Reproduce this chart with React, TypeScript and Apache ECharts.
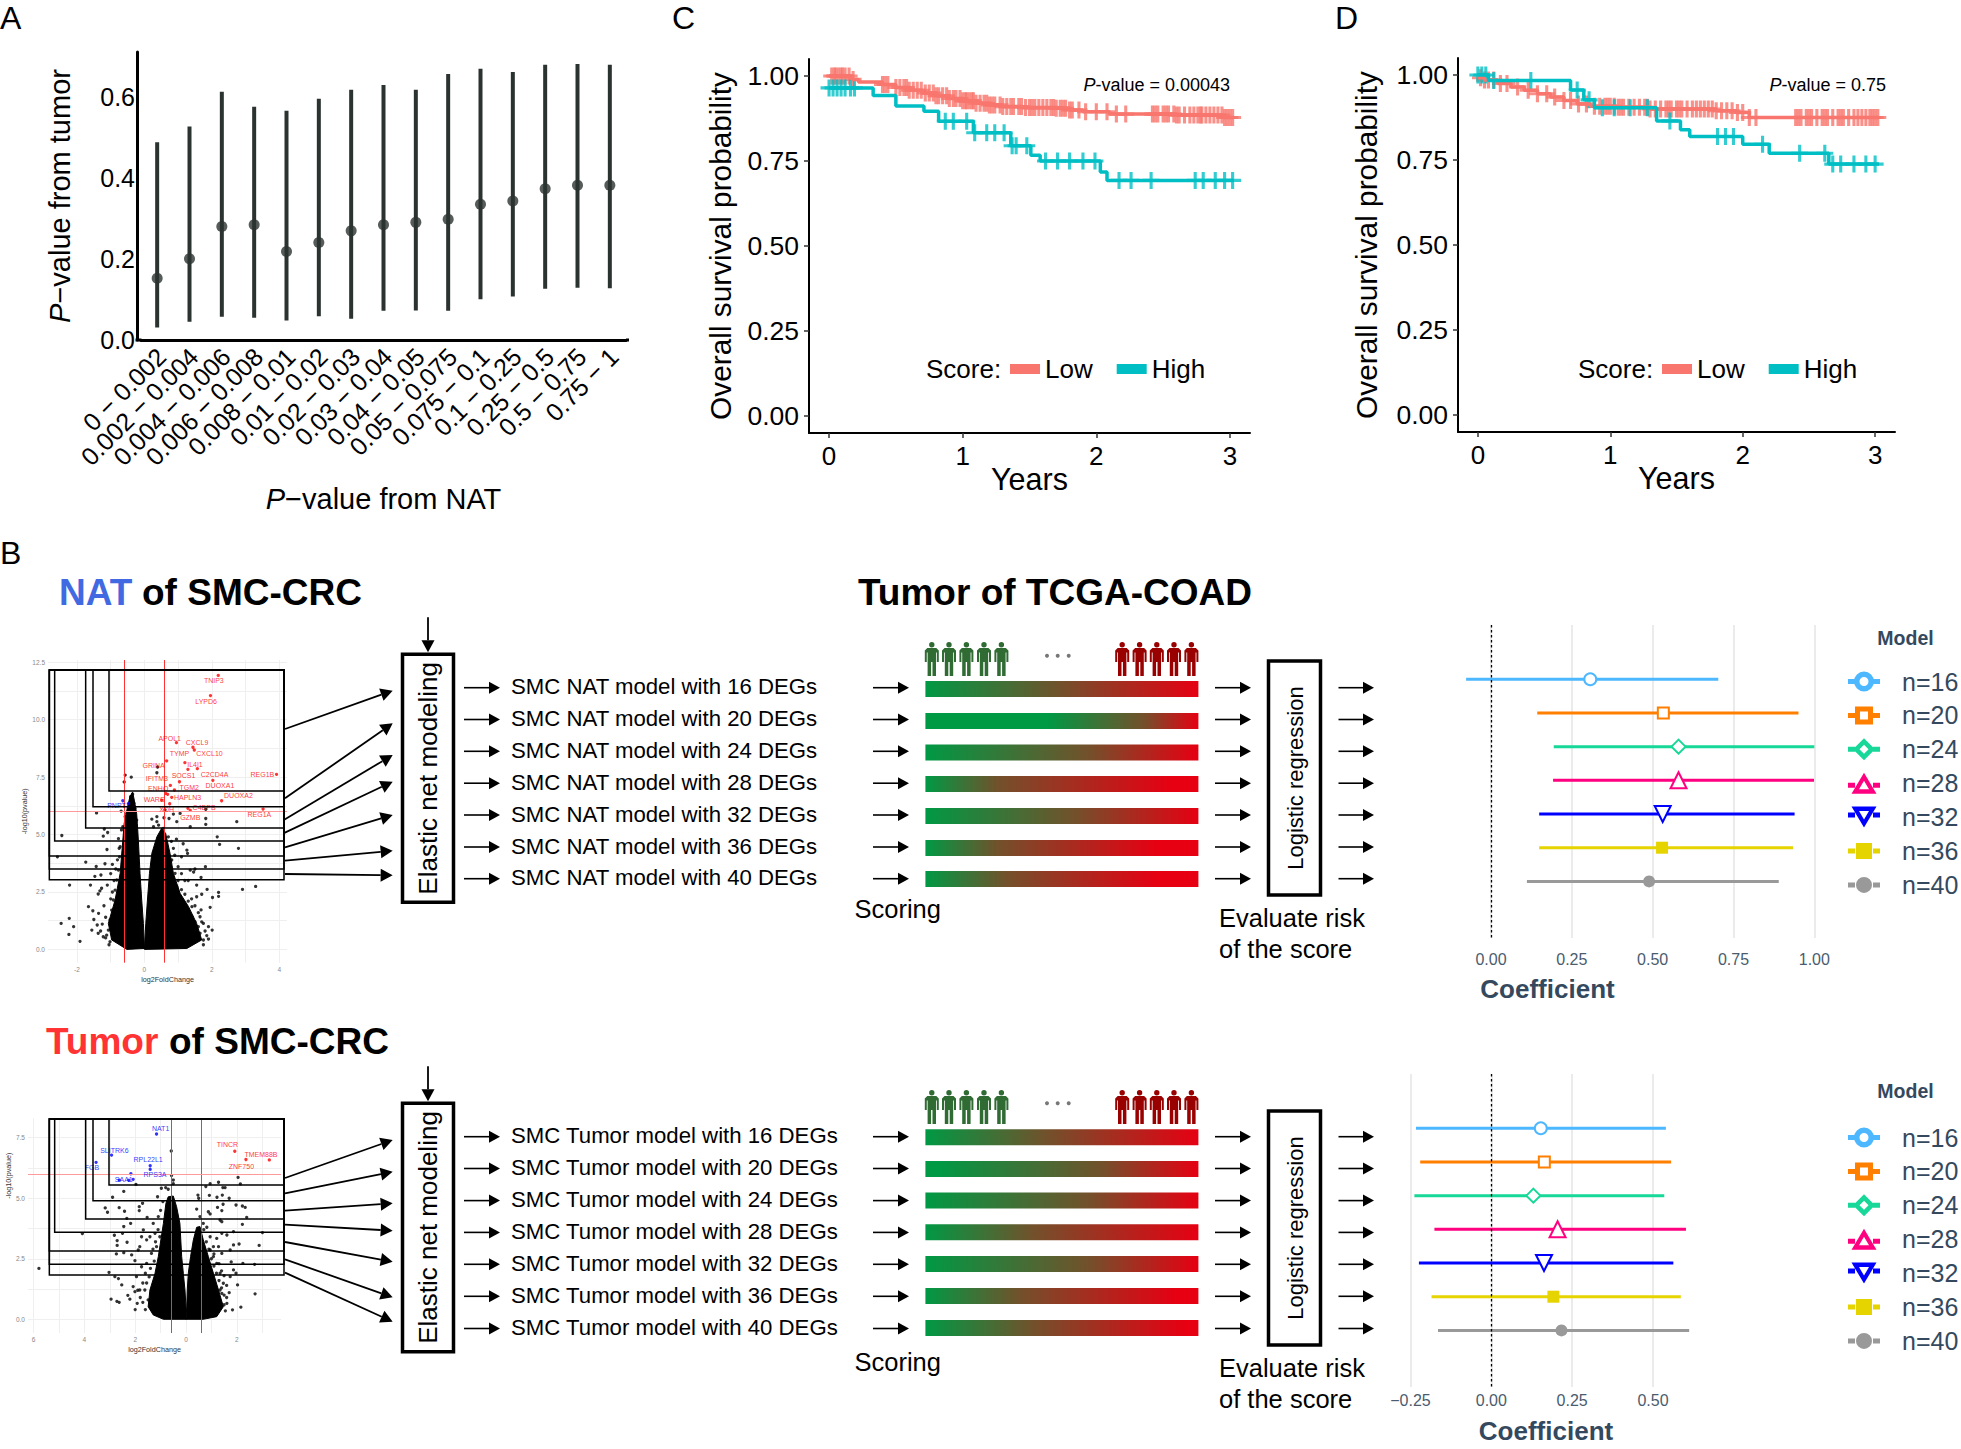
import React, { useEffect, useRef } from "react";
import * as echarts from "echarts";

const FONT = "Liberation Sans";
const SLATE = "#34495e";

// ---------- Panel A ----------
const binLabels = ["0 − 0.002","0.002 − 0.004","0.004 − 0.006","0.006 − 0.008","0.008 − 0.01","0.01 − 0.02","0.02 − 0.03","0.03 − 0.04","0.04 − 0.05","0.05 − 0.075","0.075 − 0.1","0.1 − 0.25","0.25 − 0.5","0.5 − 0.75","0.75 − 1"];
const binMedian = [.153,.201,.281,.285,.219,.241,.27,.285,.291,.299,.336,.344,.374,.383,.383];
const binUpper = [.489,.528,.614,.577,.567,.597,.619,.631,.619,.658,.671,.663,.681,.683,.681];
const binLower = [.031,.045,.0575,.055,.048,.059,.0525,.0725,.073,.0725,.101,.1075,.127,.129,.128];

// ---------- Panels C, D ----------
const cLowSteps = [[0,1],[.17,.99],[.22,.982],[.4,.975],[.5,.966],[.6,.958],[.7,.95],[.8,.942],[.9,.934],[1,.927],[1.1,.92],[1.2,.915],[1.3,.91],[1.45,.907],[1.7,.905],[1.8,.9],[1.9,.895],[2.1,.888],[2.6,.885],[2.95,.878],[3.03,.875]];
const cHighSteps = [[0,.965],[.33,.943],[.5,.912],[.71,.896],[.82,.867],[1.08,.833],[1.36,.795],[1.51,.767],[1.58,.75],[2.03,.718],[2.08,.693],[3.03,.693]];
const cLowCensor = [.02,.04,.05,.07,.09,.1,.12,.15,.18,.4,.42,.44,.5,.53,.56,.58,.6,.63,.66,.69,.72,.75,.78,.8,.82,.85,.88,.9,.93,.95,.98,1,1.02,1.03,1.05,1.07,1.08,1.1,1.13,1.16,1.18,1.2,1.22,1.24,1.28,1.3,1.33,1.36,1.38,1.42,1.44,1.47,1.5,1.52,1.54,1.57,1.6,1.63,1.66,1.68,1.7,1.73,1.75,1.77,1.8,1.82,1.87,1.92,2,2.08,2.15,2.22,2.42,2.44,2.46,2.5,2.52,2.54,2.58,2.6,2.62,2.66,2.7,2.73,2.76,2.78,2.79,2.82,2.85,2.88,2.91,2.94,2.96,2.98,3,3.02];
const cHighCensor = [.0,.03,.06,.09,.12,.16,.19,.87,.93,1.03,1.09,1.18,1.24,1.31,1.37,1.4,1.48,1.62,1.71,1.8,1.9,1.99,2.17,2.26,2.41,2.74,2.8,2.89,2.96,3.02];
const dLowSteps = [[0,.992],[.05,.985],[.15,.975],[.25,.965],[.35,.955],[.45,.945],[.55,.935],[.65,.925],[.75,.915],[.85,.908],[1.05,.905],[1.3,.9],[1.6,.9],[1.8,.895],[1.95,.89],[2.05,.875],[3.03,.875]];
const dHighSteps = [[0,1],[.08,.984],[.7,.956],[.8,.927],[.88,.904],[1.35,.865],[1.53,.839],[1.6,.819],[2,.796],[2.2,.77],[2.65,.738],[3.03,.738]];
const dLowCensor = [.02,.05,.08,.12,.17,.22,.3,.38,.45,.52,.58,.65,.7,.76,.82,.88,.92,.96,.98,1,1.03,1.06,1.08,1.1,1.14,1.18,1.22,1.26,1.28,1.3,1.34,1.38,1.42,1.44,1.46,1.5,1.52,1.54,1.58,1.62,1.65,1.68,1.71,1.74,1.77,1.8,1.84,1.88,1.92,1.96,2,2.05,2.1,2.4,2.42,2.44,2.48,2.5,2.52,2.56,2.6,2.62,2.64,2.68,2.72,2.74,2.76,2.8,2.84,2.87,2.9,2.93,2.96,2.98,3,3.02];
const dHighCensor = [0,.03,.06,.12,.4,.75,.84,.94,1.03,1.15,1.28,1.45,1.81,1.87,1.93,2.15,2.43,2.62,2.68,2.74,2.84,2.93,3];

// ---------- Volcano plots ----------
const v1LobeLeft = [[-.97,.41],[-1.07,1.13],[-.87,2.15],[-.72,3.31],[-.64,4.76],[-.6,5.49],[-.52,6.07],[-.43,6.65],[-.35,6.85],[-.3,6.5],[-.23,5.92],[-.21,5.49],[-.18,4.76],[-.13,3.31],[-.08,2.15],[-.03,1.13],[0,.04],[-.52,0]];
const v1LobeRight = [[.04,1.13],[.09,2.15],[.15,3.31],[.22,4.18],[.37,4.9],[.51,5.27],[.63,5.05],[.76,4.18],[.86,3.31],[1.06,2.44],[1.31,1.86],[1.55,1.13],[1.7,.41],[1.26,.04],[0,0]];
const v1Black = [[-.57,7.59],[-.39,7.5],[-.6,7.29],[.39,7.94],[.37,7.69],[-1.42,5.94],[-.69,6.02],[-2.45,4.96],[-1.19,5.24],[-1.09,5.09],[-1.22,4.93],[-.77,4.82],[-1.11,4.35],[-2.58,4.03],[-1.74,3.8],[-1.17,3.73],[-1.43,3.61],[-1.29,3.24],[-1.47,3.18],[-2.22,2.8],[-1.6,2.8],[-1.27,2.66],[-1.32,2.55],[-1.37,2.41],[-1.66,1.86],[-1.53,1.68],[-1.36,1.57],[-2.23,1.35],[-2.47,1.13],[-2.1,.99],[-2.24,.65],[-1.91,.35],[-1.56,.84],[-1.4,1.06],[-1.37,.7],[-1.22,.55],[-1.02,.33],[-1.02,1.28],[-1.07,.84],[-1.12,.62],[-.97,1.71],[-.92,2.15],[-.87,2.58],[-.82,3.02],[-.77,3.45],[-.74,4.03],[-.72,4.47],[-.64,5.34],[-.57,5.78],[-.52,5.92],[-.45,6.21],[-.41,6.65],[-.35,6.76],[-.31,6.36],[-.28,6.14],[-.23,5.63],[.22,5.67],[.37,5.56],[.58,5.73],[.73,5.7],[.86,5.89],[.96,5.56],[1.36,5.34],[1.82,6.1],[1.82,5.7],[1.82,5.44],[2.74,5.56],[2.16,4.9],[2.23,4.57],[2.79,4.4],[1.81,3.6],[1.68,3.13],[2.91,2.61],[3.3,2.74],[2.2,2.48],[2.2,2.31],[1.86,2.61],[2.02,2.26],[2.01,.84],[1.9,.99],[1.95,1.83],[1.68,1.72],[1.26,4.32],[1.28,4.18],[.86,4.4],[1.1,4.03],[1.36,3.45],[1.46,3.37],[1.2,3],[1.55,2.29],[1.41,1.86],[1.65,1.42],[1.75,1.13],[.66,4.18],[.81,3.89],[.91,3.31],[.96,2.73],[1.06,2.29],[1.16,2],[1.26,1.71],[1.41,1.42],[1.5,1.2],[1.6,.99],[1.65,.7],[1.75,.41],[.27,5.34],[.42,5.41],[.56,5.27],[.71,4.9],[.37,5.78],[.61,6.07],[1.06,5.92],[-1.5,1.3],[-1.2,1.9],[-1.15,1.4],[-1.25,1.1],[-1.3,.8],[-1.15,.5],[-1.05,.2],[-.95,2.5],[-.9,3],[-1,2.2],[-.85,3.5],[-.8,3.9],[-.75,4.4],[-.9,1.5],[-1.1,2.8],[-1,3.3],[-.95,3.7],[-.68,5.2],[1,3],[1.1,2.6],[1.2,2.4],[1.3,2.1],[1.4,2.2],[1.5,1.9],[1.6,1.6],[1.7,1.2],[1.8,.8],[1.85,.6],[.9,4.1],[1,3.6],[1.1,3.3],[1.3,3],[.8,4.7],[.95,4.8],[1.15,4.6],[1.5,3.5],[1.55,2.8],[1.7,2.4],[1.75,.2],[1.9,.45]];
const v1Red = [[2.19,11.93],[1.96,11.05],[.95,9],[1.44,8.8],[1.48,8.68],[.66,8.21],[1.2,8.13],[1.29,7.84],[1.57,7.87],[3.92,7.62],[2.03,7.36],[1.04,7.3],[.77,7.14],[.89,6.94],[.63,6.79],[.69,6.75],[.81,6.62],[.51,6.5],[2.29,6.47],[.75,6.34],[3.52,6.11],[1.29,6.14],[1.36,6.05]];
const v1Blue = [[-.64,6.47],[-.47,6.35]];
const v1RedLabels: [string, number, number][] = [["TNIP3",2.06,11.7],["LYPD6",1.83,10.81],["APOL1",.75,9.2],["CXCL9",1.56,9.01],["TYMP",1.04,8.53],["CXCL10",1.93,8.53],["IL4I1",1.5,8.07],["GRINA",.27,8],["SOCS1",1.16,7.55],["C2CD4A",2.08,7.63],["REG1B",3.5,7.62],["IFITM3",.37,7.46],["DUOXA1",2.24,7.14],["ENHO",.41,7.02],["TGM2",1.33,7.07],["HAPLN3",1.28,6.62],["DUOXA2",2.79,6.68],["WARS",.29,6.53],["C4BPB",1.77,6.18],["XDH",.66,6.07],["REG1A",3.41,5.88],["GZMB",1.36,5.73]];
const v1BlueLabels: [string, number, number][] = [["PNPT1",-.77,6.28]];

const v2LobeLeft = [[-1.49,.52],[-1.42,1.21],[-1.22,1.9],[-1.09,2.59],[-.89,3.96],[-.79,4.79],[-.7,5.06],[-.5,5.09],[-.37,4.65],[-.24,3.96],[-.17,2.59],[-.105,1.9],[-.04,1.21],[0,.52],[0,0],[-.89,0],[-1.29,.18]];
const v2LobeRight = [[.03,.52],[.05,1.21],[.09,1.9],[.18,2.59],[.29,3.28],[.42,3.8],[.55,3.83],[.68,3.28],[.88,2.59],[1.08,1.9],[1.28,1.21],[1.47,.52],[1.21,.11],[.68,0],[0,0]];
const v2Black = [[-.58,6.95],[-.57,5.94],[-.5,5.75],[-.5,5.6],[-1.97,5.57],[-2.45,5.28],[-2.89,5.04],[-.97,5.41],[-.8,5.44],[-.7,5.37],[-1.12,5.06],[-.91,4.86],[-1.71,4.79],[-1.84,4.65],[-1.84,4.49],[-2.63,4.61],[-3.18,4.6],[-3.09,4.42],[-2.42,4.46],[-2.33,4.17],[-1.53,4.21],[-2.18,3.96],[-2.45,3.83],[-4.08,3.54],[-2.82,3.47],[-2.71,3.25],[-2.71,3.05],[-2.32,3.18],[-2.5,3.55],[-2.74,2.7],[-2.45,2.75],[-5.79,2.1],[-3.03,1.94],[-2.8,1.76],[-2.66,1.68],[-2.53,1.42],[-2.95,.83],[-2.72,.74],[-2.63,.7],[-2.29,.99],[-2.21,.83],[-2.01,1.14],[-1.92,.66],[-1.68,3.69],[-1.55,3.28],[-1.82,3],[-2.01,2.42],[-2.14,2.66],[-1.95,1.76],[-1.75,2.17],[-1.55,2.31],[-1.36,2.72],[-1.42,3.41],[-1.16,3],[-1.62,1.21],[-1.49,.8],[-1.29,3.96],[-1.09,4.24],[-1.22,3.55],[-1.03,3.41],[-1.75,3.41],[-1.88,2.86],[-2.08,1.35],[-1.82,1.21],[-1.6,.4],[-1.7,.7],[-1.8,.9],[-1.55,1.5],[-1.6,1.9],[-1.4,2.1],[-1.3,2.9],[-1.2,3.2],[-1.1,3.7],[-1,4.5],[-1.7,1.5],[-1.9,1.2],[-2,.4],[-1.45,1.75],[-1.25,2.4],[.95,5.6],[1.28,5.66],[.78,5.48],[1.45,5.44],[1.54,5.44],[2.05,5.86],[2.14,5.59],[.47,5.13],[.5,5],[.92,5.12],[1.22,5.04],[1.43,5.13],[1.7,5],[1.46,4.75],[1.24,4.62],[1.97,4.72],[2.22,4.68],[2.33,4.62],[1.41,4.49],[.42,4.55],[.55,4.24],[.88,4.44],[.95,4.35],[2.39,4.21],[2.22,3.92],[1.34,4.1],[.68,3.96],[.82,3.8],[1.41,4.03],[1.87,3.62],[3.01,3.58],[2.88,3.05],[2.09,3.11],[1.87,3.07],[1.61,3.48],[1.41,3.55],[1.21,3.34],[.95,3.41],[1.08,3],[1.28,3],[1.41,2.72],[1.74,2.86],[2.24,2.31],[2.7,2.27],[1.78,2.37],[1.97,1.9],[1.87,2.04],[1.74,1.76],[2.03,1.42],[2.72,1.05],[2.16,.5],[1.83,.39],[1.61,.66],[1.41,1.07],[1.47,1.49],[1.34,1.9],[1.21,2.31],[1.08,2.59],[.95,2.86],[1.34,1.21],[1.14,.94],[1.28,.52],[1.55,.35],[1.6,.9],[1.5,1],[1.4,1.3],[1.3,1.6],[1.2,1.9],[1.1,2.2],[1,2.5],[.9,2.9],[.8,3.2],[.7,3.7],[1.5,.6],[1.7,1.1],[1.6,1.4],[1.5,1.8],[1.4,2],[1.3,2.3],[1.1,2.7]];
const v2Red = [[1.92,6.94],[2.36,6.6],[3.28,6.58]];
const v2Blue = [[-1.16,7.65],[-2.93,6.78],[-3.54,6.48],[-1.41,6.34],[-1.41,6.19],[-2.17,6.01],[-2.63,5.75],[-2.25,5.74],[-2.08,5.78]];
const v2RedLabels: [string, number, number][] = [["TINCR",1.63,7.21],["TMEM88B",2.95,6.81],["ZNF750",2.18,6.32]];
const v2BlueLabels: [string, number, number][] = [["NAT1",-1,7.87],["SLITRK6",-2.82,6.99],["FGB",-3.7,6.25],["RPL22L1",-1.49,6.58],["RPS3A",-1.22,5.96],["SAA1",-2.45,5.78]];

// ---------- Forest plots ----------
const modelNames = ["n=16","n=20","n=24","n=28","n=32","n=36","n=40"];
const modelColors = ["#4db8ff","#ff7f00","#17d898","#ff0080","#0000ff","#e6d400","#999999"];
const modelSymbols = ["emptyCircle","emptyRect","emptyDiamond","emptyTriangle","emptyTriangle","rect","circle"];
const modelSymbolSizes = [12,11,14,16,16,12,12];
const natLow = [-.077,.143,.194,.192,.149,.149,.111];
const natEst = [.307,.533,.58,.58,.531,.529,.489];
const natHigh = [.703,.951,1,.999,.939,.934,.89];
const tumorLow = [-.233,-.22,-.238,-.176,-.224,-.185,-.165];
const tumorEst = [.153,.164,.13,.205,.163,.192,.217];
const tumorHigh = [.54,.556,.535,.602,.563,.586,.612];
const barL = "M0 8.5H7V13.5H0Z M25 8.5H32V13.5H25Z";
const legendIcons = [
  `path://${barL} M16 1a10 10 0 1 1 0 20a10 10 0 1 1 0-20Z M16 6.5a4.5 4.5 0 1 0 0 9a4.5 4.5 0 1 0 0-9Z`,
  `path://${barL} M7 2H25V20H7Z M12 7V15H20V7Z`,
  `path://${barL} M16 0L27 11L16 22L5 11Z M16 6.5L11.5 11L16 15.5L20.5 11Z`,
  "path://M0 10H7V15H0Z M25 10H32V15H25Z M16 0L28.5 21H3.5Z M16 8L11 16.5H21Z",
  "path://M0 6H7V11H0Z M25 6H32V11H25Z M3.5 0H28.5L16 21Z M16 13L21 4.5H11Z",
  `path://${barL} M8 3H24V19H8Z`,
  `path://${barL} M16 3a8 8 0 1 1 0 16a8 8 0 1 1 0-16Z`,
];

// ---------- Schematic ----------
const natRowTexts = [16,20,24,28,32,36,40].map((n) => `SMC NAT model with ${n} DEGs`);
const tumorRowTexts = [16,20,24,28,32,36,40].map((n) => `SMC Tumor model with ${n} DEGs`);
const natGradients = [[.0,.5,1],[.45,.8,1],[0,.6,1],[0,.27,.9],[0,.55,1],[0,.27,.85],[0,.3,.85]];
const tumorGradients = [[0,.45,1],[.05,.65,1.05],[0,.6,1.05],[0,.4,1],[0,.6,1.05],[0,.35,.92],[0,.4,.95]];

const plusIcon = "path://M4.9,0H7.1V4.9H12V7.1H7.1V12H4.9V7.1H0V4.9H4.9Z";
const stepAt = (steps: number[][], t: number) => {
  let s = steps[0][1];
  for (const p of steps) if (p[0] <= t) s = p[1];
  return s;
};

echarts.graphic.registerShape(
  "person",
  echarts.graphic.extendPath(
    "M7 0a2.7 2.7 0 1 1 0 5.4a2.7 2.7 0 1 1 0-5.4Z M2.5 6H11.5L14 8.5V20H12V10.5H11.2V34H7.7V20H6.3V34H2.8V10.5H2V20H0V8.5Z",
    {}
  ) as any
);

function txt(text: string, x: number, y: number, fontSize: number, extra: any = {}, rotation = 0) {
  const { fill = "#000", fontWeight = "normal", align = "left", fontStyle = "normal", rich } = extra;
  return {
    type: "text", x, y, rotation, silent: true, z: 50,
    style: { text, fill, fontSize, fontFamily: FONT, fontWeight, fontStyle, align, verticalAlign: "middle", ...(rich ? { rich } : {}) },
  };
}
function arrow(x1: number, y1: number, x2: number, y2: number, w = 1.6, len = 11, half = 6) {
  const a = Math.atan2(y2 - y1, x2 - x1);
  const bx = x2 - Math.cos(a) * len, by = y2 - Math.sin(a) * len;
  const nx = -Math.sin(a) * half, ny = Math.cos(a) * half;
  return [
    { type: "line", silent: true, z: 40, shape: { x1, y1, x2: bx, y2: by }, style: { stroke: "#000", lineWidth: w } },
    { type: "polygon", silent: true, z: 40, shape: { points: [[x2, y2], [bx + nx, by + ny], [bx - nx, by - ny]] }, style: { fill: "#000" } },
  ];
}
function nestedBoxes(topY: number, origin: number, boxes: number[][]) {
  return boxes.map(([l, b]) => ({
    type: "rect", silent: true, z: 30,
    shape: { x: l / 3, y: topY, width: 284 - l / 3, height: origin + b / 3 - topY },
    style: { fill: "none", stroke: "#000", lineWidth: 1.5 },
  }));
}
function schematic(
  rowY: number[], texts: string[], grads: number[][], barTop: number[], iconY: number, dotY: number,
  boxTop: number, boxBottom: number, elTop: number, elBottom: number, zoomArrows: number[][], zoomOrigin: number,
  scoringY: number, evalY: number[]
) {
  const out: any[] = [];
  rowY.forEach((y, i) => {
    out.push(...arrow(464, y, 500, y));
    out.push(txt(texts[i], 511, y - 1, 22.2));
    out.push(...arrow(873, y, 909, y));
    const [g, m, r] = grads[i];
    const clamp = (v: number) => Math.min(1, Math.max(0, v));
    out.push({
      type: "rect", silent: true, z: 20,
      shape: { x: 925.4, y: barTop[i], width: 273, height: 16 },
      style: {
        fill: new echarts.graphic.LinearGradient(0, 0, 1, 0, [
          { offset: 0, color: "#009944" }, { offset: clamp(g), color: "#009944" },
          { offset: clamp(m), color: "#73502b" },
          { offset: clamp(r), color: "#e60012" }, { offset: 1, color: "#e60012" },
        ]),
      },
    });
    out.push(...arrow(1215, y, 1251, y));
    out.push(...arrow(1338.5, y, 1374, y));
  });
  [931.8, 949, 966.4, 984, 1001.4].forEach((cx) =>
    out.push({ type: "person", silent: true, z: 20, x: cx - 7, y: iconY, style: { fill: "#2f6b33" } }));
  [1122.2, 1139.6, 1156.8, 1174, 1191.4].forEach((cx) =>
    out.push({ type: "person", silent: true, z: 20, x: cx - 7, y: iconY, style: { fill: "#990000" } }));
  [1047, 1057.7, 1068.7].forEach((cx) =>
    out.push({ type: "circle", silent: true, z: 20, shape: { cx, cy: dotY, r: 2 }, style: { fill: "#777" } }));
  out.push({ type: "rect", silent: true, z: 20, shape: { x: 1268.5, y: boxTop, width: 52, height: boxBottom - boxTop }, style: { fill: "none", stroke: "#000", lineWidth: 3.5 } });
  out.push(txt("Logistic regression", 1295, (boxTop + boxBottom) / 2, 22, { align: "center" }, Math.PI / 2));
  out.push({ type: "rect", silent: true, z: 20, shape: { x: 402.5, y: elTop, width: 51, height: elBottom - elTop }, style: { fill: "none", stroke: "#000", lineWidth: 3.5 } });
  out.push(txt("Elastic net modeling", 428, (elTop + elBottom) / 2, 26, { align: "center" }, Math.PI / 2));
  out.push(...arrow(428, elTop - 37, 428, elTop - 2, 1.8, 12, 6.5));
  zoomArrows.forEach(([a, b, c, d]) => out.push(...arrow(a / 3, zoomOrigin + b / 3, c / 3, zoomOrigin + d / 3, 1.8, 12, 6.5)));
  out.push(txt("Scoring", 854.5, scoringY, 25.5));
  out.push(txt("Evaluate risk", 1219, evalY[0], 25.5));
  out.push(txt("of the score", 1219, evalY[1], 25.5));
  return out;
}

const grids = [
  { left: 141, top: 52, width: 485, height: 288 },
  { left: 809, top: 59, width: 441, height: 374 },
  { left: 1458, top: 58, width: 437, height: 374 },
  { left: 48, top: 660, width: 239, height: 302.7 },
  { left: 28, top: 1118.3, width: 253, height: 214.7 },
  { left: 1460, top: 625, width: 365, height: 313 },
  { left: 1405, top: 1074, width: 290, height: 313 },
];

function survivalSeries(gridIdx: number, lowSteps: number[][], highSteps: number[][], lowCensor: number[], highCensor: number[]) {
  const make = (name: string, color: string, steps: number[][], censor: number[]) => [
    { type: "line", name, xAxisIndex: gridIdx, yAxisIndex: gridIdx, step: "end", data: steps, showSymbol: false, symbol: "none", lineStyle: { color, width: 3.5 }, itemStyle: { color }, silent: true },
    { type: "scatter", name, xAxisIndex: gridIdx, yAxisIndex: gridIdx, data: censor.map((t) => [t, stepAt(steps, t)]), symbol: plusIcon, symbolSize: 17, itemStyle: { color }, silent: true },
  ];
  return [...make("Low", "#F8766D", lowSteps, lowCensor), ...make("High", "#00BFC4", highSteps, highCensor)];
}
function survivalAxes(gridIndex: number, yGap: number) {
  return {
    x: {
      type: "value", gridIndex, min: -0.15, max: 3.15, name: "Years", nameLocation: "middle", nameGap: 30, nameMoveOverlap: false,
      nameTextStyle: { fontSize: 30.5, fontFamily: FONT, color: "#000" },
      axisLine: { lineStyle: { color: "#000", width: 2 }, onZero: false },
      axisTick: { customValues: [0, 1, 2, 3], length: 5, lineStyle: { color: "#333", width: 1.5 } },
      axisLabel: { customValues: [0, 1, 2, 3], fontSize: 26, fontFamily: FONT, color: "#000", margin: 10, formatter: (v: number) => String(v) },
      splitLine: { show: false },
    },
    y: {
      type: "value", gridIndex, min: -0.05, max: 1.05, name: "Overall survival probability", nameLocation: "middle", nameGap: yGap,
      nameTextStyle: { fontSize: 29.8, fontFamily: FONT, color: "#000" },
      axisLine: { show: true, lineStyle: { color: "#000", width: 2 }, onZero: false },
      axisTick: { show: true, customValues: [0, .25, .5, .75, 1], length: 5, lineStyle: { color: "#333", width: 1.5 } },
      axisLabel: { customValues: [0, .25, .5, .75, 1], fontSize: 26.5, fontFamily: FONT, color: "#000", margin: 10, formatter: (v: number) => v.toFixed(2) },
      splitLine: { show: false },
    },
  };
}
function volcanoAxes(gridIndex: number, xr: number[], yr: number[], xMajor: number[], xMinor: number[], yMajor: number[], yMinor: number[], xFmt: (v: number) => string, yGap: number, namePad: number) {
  const grid = { show: true, lineStyle: { color: "#efefef", width: 1 } };
  const lab = { fontSize: 6.5, fontFamily: FONT, color: "#888", margin: 3 };
  const nm = { fontSize: 7.2, fontFamily: FONT, color: "#333" };
  return {
    x: {
      type: "value", gridIndex, min: xr[0], max: xr[1], name: "log2FoldChange", nameLocation: "middle", nameGap: 13, nameTextStyle: nm,
      axisLine: { show: false }, axisTick: { show: false, customValues: [...xMajor, ...xMinor] },
      axisLabel: { ...lab, customValues: xMajor, formatter: xFmt }, splitLine: grid,
    },
    y: {
      type: "value", gridIndex, min: yr[0], max: yr[1], name: "-log10(pvalue)", nameLocation: "middle", nameGap: yGap,
      nameTextStyle: { ...nm, padding: [0, 0, 0, namePad] },
      axisLine: { show: false }, axisTick: { show: false, customValues: [...yMajor, ...yMinor] },
      axisLabel: { ...lab, customValues: yMajor, formatter: (v: number) => v.toFixed(1) }, splitLine: grid,
    },
  };
}
function volcanoSeries(g: number, lobes: number[][][], black: number[][], red: number[][], blue: number[][], redL: [string, number, number][], blueL: [string, number, number][], vx: number[]) {
  const base = { xAxisIndex: g, yAxisIndex: g, silent: true };
  const lobeSeries = lobes.map((pts) => ({
    ...base, type: "custom", data: pts, clip: false,
    renderItem: (p: any, api: any) => {
      if (p.dataIndex !== 0) return null as any;
      return { type: "polygon", shape: { points: pts.map((q) => api.coord(q)) }, style: { fill: "#000", stroke: "#000", lineWidth: 1, lineJoin: "round" } };
    },
  }));
  const labelS = (d: [string, number, number][], color: string) => ({
    ...base, type: "scatter", symbolSize: 1, itemStyle: { color: "transparent" },
    data: d.map(([name, x, y]) => ({ name, value: [x, y] })),
    label: { show: true, position: "inside", formatter: "{b}", fontSize: 7, fontFamily: FONT, color }, z: 6,
  });
  return [
    ...lobeSeries,
    { ...base, type: "scatter", data: black, symbolSize: 3.3, itemStyle: { color: "#000" } },
    { ...base, type: "scatter", data: red, symbolSize: 3.3, itemStyle: { color: "#f00" }, z: 4 },
    { ...base, type: "scatter", data: blue, symbolSize: 3.3, itemStyle: { color: "#00f" }, z: 4 },
    labelS(redL, "#f00"), labelS(blueL, "#00f"),
    {
      ...base, type: "line", data: [], z: 5,
      markLine: {
        silent: true, symbol: ["none", "none"], label: { show: false },
        data: [
          { xAxis: vx[0], lineStyle: { color: "#f33", width: 1, type: "solid" } },
          { xAxis: vx[1], lineStyle: { color: "#f33", width: 1, type: "solid" } },
          { yAxis: 6, lineStyle: { color: "#ff9a9a", width: 1, type: "solid" } },
        ],
      },
    },
  ];
}
function forestSeries(g: number, low: number[], est: number[], high: number[]) {
  return modelNames.map((name, i) => ({
    type: "line", name, xAxisIndex: g, yAxisIndex: g, silent: true,
    symbol: modelSymbols[i], symbolSize: modelSymbolSizes[i], symbolRotate: i === 4 ? 180 : 0,
    lineStyle: { color: modelColors[i], width: 3 }, itemStyle: { color: modelColors[i] },
    data: [{ value: [low[i], i], symbol: "none" }, { value: [est[i], i] }, { value: [high[i], i], symbol: "none" }],
    z: 3,
    ...(i === 0
      ? { markLine: { silent: true, symbol: ["none", "none"], label: { show: false }, lineStyle: { color: "#000", width: 1.3, type: [2.5, 2.5] }, data: [{ xAxis: 0 }], z: 4 } }
      : {}),
  }));
}
function forestAxes(gridIndex: number, xr: number[], ticks: number[], rowMin: number, rowMax: number, namePad: number, labelMargin: number, nameGap: number) {
  return {
    x: {
      type: "value", gridIndex, min: xr[0], max: xr[1], name: "Coefficient", nameLocation: "middle", nameGap, nameMoveOverlap: false,
      nameTextStyle: { fontSize: 26, fontWeight: "bold", fontFamily: FONT, color: SLATE, padding: [0, namePad, 0, 0] },
      axisLine: { show: false }, axisTick: { show: false, customValues: ticks },
      axisLabel: { customValues: ticks, fontSize: 16, fontFamily: FONT, color: "#4a5c6e", margin: labelMargin, formatter: (v: number) => v.toFixed(2).replace("-", "−") },
      splitLine: { show: true, lineStyle: { color: "#e6e6e6", width: 1.6 } },
    },
    y: { type: "value", gridIndex, min: rowMin, max: rowMax, inverse: true, show: false, splitLine: { show: false } },
  };
}

const App = () => {
  const ref = useRef<HTMLDivElement>(null);
  useEffect(() => {
    const chart = echarts.init(ref.current!, undefined, { renderer: "svg" });
    const sc = survivalAxes(1, 74), sd = survivalAxes(2, 77);
    const v1 = volcanoAxes(3, [-2.86, 4.23], [-.58, 12.6], [-2, 0, 2, 4], [-1, 1, 3], [0, 2.5, 5, 7.5, 10, 12.5], [1.25, 3.75, 6.25, 8.75, 11.25], (v) => String(v), 12, 0);
    const v2 = volcanoAxes(4, [-6.22, 3.74], [-.566, 8.3], [-6, -4, -2, 0, 2], [-5, -3, -1, 1, 3], [0, 2.5, 5, 7.5], [1.25, 3.75, 6.25], (v) => String(Math.abs(v)), 15, 100);
    const f1 = forestAxes(5, [-.0959, 1.033], [0, .25, .5, .75, 1], -1.61, 7.68, 190, 13, 38);
    const f2 = forestAxes(6, [-.267, .63], [-.25, 0, .25, .5], -1.61, 7.68, 8, 5, 31);

    const rowsNat = [687.7, 719.5, 751.3, 783.2, 815, 847, 878.7];
    const barsNat = [681, 713, 744.5, 776, 808, 840, 871];
    const rowsTum = [1136.7, 1168.5, 1200.6, 1232.4, 1264.3, 1296.3, 1328.5];
    const barsTum = [1129.3, 1161, 1192.6, 1224.2, 1256, 1288, 1320];
    const richP = { i: { fontStyle: "italic", fontSize: 18, fontFamily: FONT, fill: "#000" } };
    const graphic: any[] = [
      txt("A", 0, 18, 32), txt("C", 672, 18, 32), txt("D", 1335, 18, 32), txt("B", 0, 553, 32),
      txt("NAT", 59, 592, 37, { fill: "#4169e1", fontWeight: "bold" }),
      txt("of SMC-CRC", 142, 592, 37, { fontWeight: "bold" }),
      txt("Tumor", 46, 1041, 37, { fill: "#ff3333", fontWeight: "bold" }),
      txt("of SMC-CRC", 169, 1041, 37, { fontWeight: "bold" }),
      txt("Tumor of TCGA-COAD", 858, 592, 37, { fontWeight: "bold" }),
      txt("Score:", 926, 369, 26), txt("Score:", 1578, 369, 26),
      txt("{i|P}-value = 0.00043", 1230, 85, 18, { align: "right", rich: richP }),
      txt("{i|P}-value = 0.75", 1886, 85, 18, { align: "right", rich: richP }),
      txt("Model", 1905.5, 638, 19.5, { fill: SLATE, fontWeight: "bold", align: "center" }),
      txt("Model", 1905.5, 1091, 19.5, { fill: SLATE, fontWeight: "bold", align: "center" }),
      { type: "rect", silent: true, z: 5, shape: { x: 135.5, y: 338.5, width: 6, height: 3 }, style: { fill: "#000" } },
      { type: "rect", silent: true, z: 5, shape: { x: 626, y: 338.5, width: 3, height: 3 }, style: { fill: "#000" } },
      ...nestedBoxes(670, 640, [[327, 453], [279, 500], [257, 564], [164, 603], [148, 648], [148, 687], [148, 719]]),
      ...nestedBoxes(1119, 1090, [[327, 285], [279, 332], [257, 387], [164, 427], [148, 483], [148, 523], [148, 555]]),
      ...schematic(rowsNat, natRowTexts, natGradients, barsNat, 642, 655.7, 661, 895, 654.3, 902.3,
        [[855,267,1178,152],[855,475,1178,250],[850,541,1178,345],[850,580,1178,425],[855,622,1178,525],[855,662,1178,632],[855,702,1178,706]], 640, 909.3, [917.7, 949.3]),
      ...schematic(rowsTum, tumorRowTexts, tumorGradients, barsTum, 1090, 1103.3, 1111, 1345, 1103.3, 1351.7,
        [[855,264,1178,150],[855,310,1178,245],[855,362,1178,340],[855,404,1178,422],[855,456,1178,515],[855,508,1178,622],[855,548,1178,695]], 1090, 1361.7, [1367.7, 1399.3]),
    ];

    chart.setOption({
      animation: false,
      backgroundColor: "#fff",
      grid: grids.map((g) => ({ ...g, containLabel: false, outerBoundsMode: "none" })),
      xAxis: [
        {
          type: "category", gridIndex: 0, data: binLabels, name: "{i|P}−value from NAT", nameLocation: "middle", nameGap: 144,
          nameTextStyle: { fontSize: 29, fontFamily: FONT, color: "#000", rich: { i: { fontStyle: "italic", fontSize: 29, fontFamily: FONT, color: "#000" } } },
          axisLine: { lineStyle: { color: "#000", width: 3 } },
          axisTick: { alignWithLabel: true, length: 4, lineStyle: { color: "#666", width: 1.5 } },
          axisLabel: {
            rotate: 45, color: "#000", margin: 8, interval: 0, hideOverlap: false, formatter: "{a|{value}}",
            rich: { a: { fontSize: 25, fontFamily: FONT, color: "#000", padding: [12, 0, 0, 0] } },
          },
        },
        sc.x, sd.x, v1.x, v2.x, f1.x, f2.x,
      ],
      yAxis: [
        {
          type: "value", gridIndex: 0, min: 0, max: .7125, offset: 4, name: "{i|P}−value from tumor", nameLocation: "middle", nameGap: 63,
          nameTextStyle: { fontSize: 29, fontFamily: FONT, color: "#000", rich: { i: { fontStyle: "italic", fontSize: 29, fontFamily: FONT, color: "#000" } } },
          axisLine: { show: true, lineStyle: { color: "#000", width: 3 } },
          axisTick: { show: false, customValues: [0, .2, .4, .6] },
          axisLabel: { customValues: [0, .2, .4, .6], fontSize: 25, fontFamily: FONT, color: "#000", margin: 2, formatter: (v: number) => v.toFixed(1) },
          splitLine: { show: false },
        },
        sc.y, sd.y, v1.y, v2.y, f1.y, f2.y,
      ],
      legend: [
        { show: true, data: ["Low", "High"], left: 1005, top: 351, itemWidth: 30, itemHeight: 10, itemGap: 24, icon: "rect", selectedMode: false, textStyle: { fontSize: 26, fontFamily: FONT, color: "#000" } },
        { show: true, data: ["Low", "High"], left: 1657, top: 351, itemWidth: 30, itemHeight: 10, itemGap: 24, icon: "rect", selectedMode: false, textStyle: { fontSize: 26, fontFamily: FONT, color: "#000" } },
        ...[664, 1120].map((top) => ({
          show: true, data: modelNames.map((name, i) => ({ name, icon: legendIcons[i] })), left: 1843, top, orient: "vertical",
          itemWidth: 32, itemHeight: 22, itemGap: 8.9, selectedMode: false, itemStyle: { borderWidth: 0 },
          textStyle: { fontSize: 25, fontFamily: FONT, color: SLATE, padding: [0, 0, 0, 17] },
        })),
      ],
      graphic: { elements: graphic },
      series: [
        {
          type: "custom", xAxisIndex: 0, yAxisIndex: 0, silent: true, data: binLabels.map((_, i) => [i, binLower[i], binUpper[i]]),
          encode: { x: 0, y: [1, 2] },
          renderItem: (_p: any, api: any) => {
            const a = api.coord([api.value(0), api.value(1)]);
            const b = api.coord([api.value(0), api.value(2)]);
            return { type: "line", shape: { x1: a[0], y1: a[1], x2: b[0], y2: b[1] }, style: { stroke: "#2b3331", lineWidth: 4 } };
          },
        },
        { type: "scatter", xAxisIndex: 0, yAxisIndex: 0, silent: true, data: binMedian.map((m, i) => [i, m]), symbolSize: 11, itemStyle: { color: "#2b3331" } },
        ...survivalSeries(1, cLowSteps, cHighSteps, cLowCensor, cHighCensor),
        ...survivalSeries(2, dLowSteps, dHighSteps, dLowCensor, dHighCensor),
        ...volcanoSeries(3, [v1LobeLeft, v1LobeRight], v1Black, v1Red, v1Blue, v1RedLabels, v1BlueLabels, [-.61, .594]),
        ...volcanoSeries(4, [v2LobeLeft, v2LobeRight], v2Black, v2Red, v2Blue, v2RedLabels, v2BlueLabels, [-.566, .6]),
        ...forestSeries(5, natLow, natEst, natHigh),
        ...forestSeries(6, tumorLow, tumorEst, tumorHigh),
      ],
    });
    return () => chart.dispose();
  }, []);
  return <div ref={ref} style={{ position: "absolute", left: 0, top: 0, width: 1961, height: 1449, background: "#fff" }} />;
};

export default App;
